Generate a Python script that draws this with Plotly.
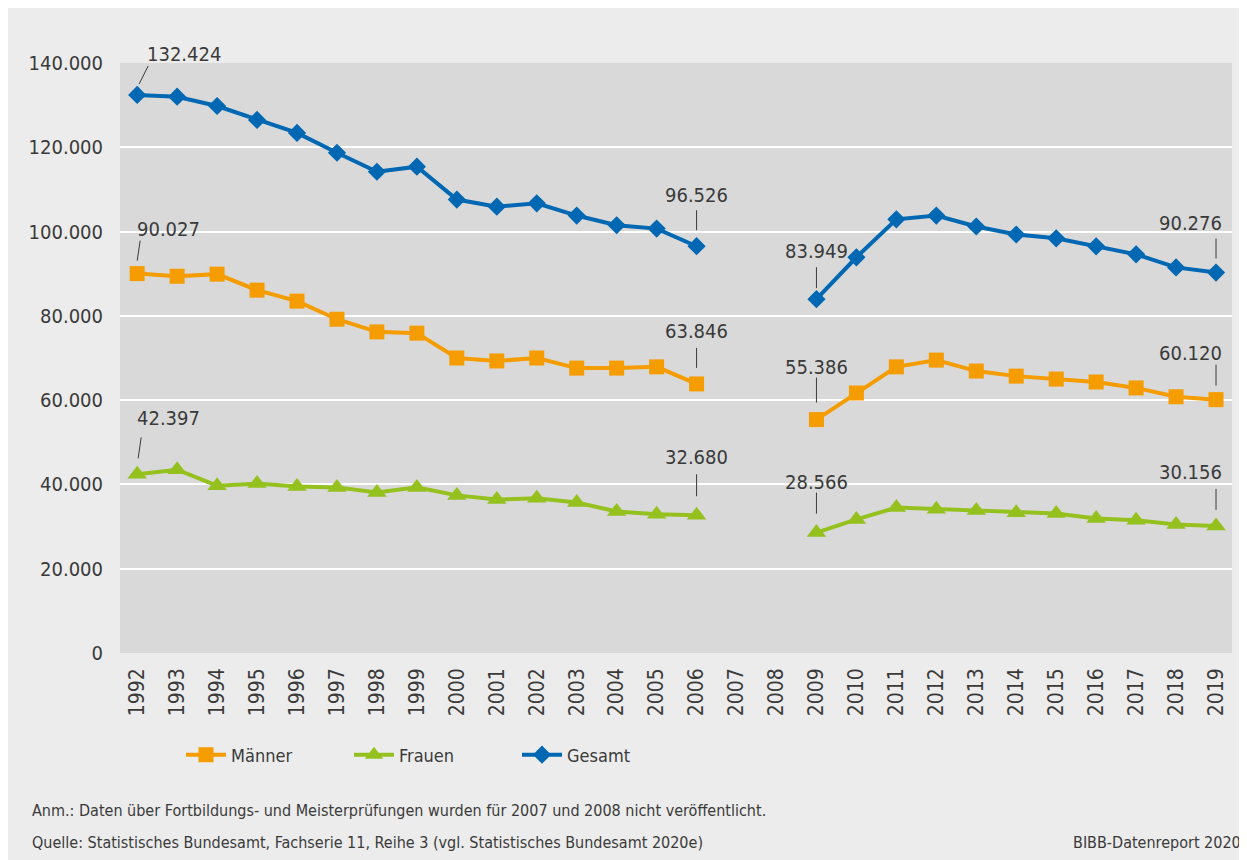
import plotly.graph_objects as go

years = list(range(1992, 2020))

# 2007 and 2008 were not published -> None
maenner = [90027, 89400, 89900, 86100, 83500, 79200, 76200, 75900, 70000, 69300,
           70000, 67600, 67600, 67900, 63846, None, None, 55386, 61700, 67900,
           69500, 66900, 65700, 65000, 64300, 62900, 60800, 60120]
frauen = [42397, 43500, 39700, 40200, 39500, 39300, 38100, 39300, 37400, 36400,
          36700, 35700, 33600, 32900, 32680, None, None, 28566, 31700, 34500,
          34100, 33800, 33300, 33100, 31900, 31500, 30500, 30156]
gesamt = [132424, 132000, 129800, 126500, 123400, 118700, 114200, 115400, 107600, 105900,
          106700, 103800, 101500, 100700, 96526, None, None, 83949, 93900, 102900,
          103800, 101200, 99300, 98400, 96500, 94600, 91500, 90276]

y_ticks = [0, 20000, 40000, 60000, 80000, 100000, 120000, 140000]
y_labels = ["0", "20.000", "40.000", "60.000", "80.000", "100.000", "120.000", "140.000"]

FONT = "DejaVu Sans Condensed, Liberation Sans Narrow, Roboto, sans-serif"
TXT = "#3a3a3a"

fig = go.Figure()
fig.add_trace(go.Scatter(x=years, y=maenner, name="Männer", mode="lines+markers",
                         line=dict(color="#f59c00", width=4),
                         marker=dict(symbol="square", size=15, color="#f59c00")))
fig.add_trace(go.Scatter(x=years, y=frauen, name="Frauen", mode="lines+markers",
                         line=dict(color="#95c11f", width=4),
                         marker=dict(symbol="triangle-up", size=17, color="#95c11f")))
fig.add_trace(go.Scatter(x=years, y=gesamt, name="Gesamt", mode="lines+markers",
                         line=dict(color="#0068b3", width=4),
                         marker=dict(symbol="diamond", size=14, color="#0068b3")))


def fmt(v):
    return f"{v:,}".replace(",", ".")


# value labels: (series, year index, xanchor, xshift, yshift, line offsets x0,y0,x1,y1)
labels = [
    (gesamt, 0, "left", 8, 41, 2, 11, 11, 29),
    (maenner, 0, "left", -2, 45, 0, 13, 3, 33),
    (frauen, 0, "left", -2, 56, 1, 16, 4, 37),
    (gesamt, 14, "center", 0, 51, 0, 16, 0, 36),
    (maenner, 14, "center", 0, 53, 0, 16, 0, 36),
    (frauen, 14, "center", 0, 58, 0, 19, 0, 41),
    (gesamt, 17, "center", 0, 48, 0, 11, 0, 32),
    (maenner, 17, "center", 0, 53, 0, 17, 0, 42),
    (frauen, 17, "center", 0, 51, 0, 19, 0, 40),
    (gesamt, 27, "right", 8, 50, 0, 14, 0, 34),
    (maenner, 27, "right", 8, 47, 0, 14, 0, 35),
    (frauen, 27, "right", 8, 54, 0, 16, 0, 37),
]
for s, i, xa, xs, ys, lx0, ly0, lx1, ly1 in labels:
    fig.add_annotation(x=years[i], y=s[i], text=fmt(s[i]), showarrow=False,
                       xanchor=xa, yanchor="middle", xshift=xs, yshift=ys,
                       font=dict(family=FONT, size=20, color=TXT))
    fig.add_shape(type="line", xref="x", yref="y",
                  xsizemode="pixel", ysizemode="pixel",
                  xanchor=years[i], yanchor=s[i],
                  x0=lx0, x1=lx1, y0=ly0, y1=ly1,
                  line=dict(color=TXT, width=1))

fig.add_annotation(xref="paper", yref="paper", x=(30 - 120) / 1112, y=(653 - 810) / 590,
                   xanchor="left", yanchor="middle", showarrow=False,
                   text="Anm.: Daten über Fortbildungs- und Meisterprüfungen wurden für 2007 und 2008 nicht veröffentlicht.",
                   font=dict(family=FONT, size=16, color=TXT))
fig.add_annotation(xref="paper", yref="paper", x=(30 - 120) / 1112, y=(653 - 842) / 590,
                   xanchor="left", yanchor="middle", showarrow=False,
                   text="Quelle: Statistisches Bundesamt, Fachserie 11, Reihe 3 (vgl. Statistisches Bundesamt 2020e)",
                   font=dict(family=FONT, size=16, color=TXT))
fig.add_annotation(xref="paper", yref="paper", x=(1243 - 120) / 1112, y=(653 - 842) / 590,
                   xanchor="right", yanchor="middle", showarrow=False,
                   text="BIBB-Datenreport 2020",
                   font=dict(family=FONT, size=16, color=TXT))

fig.update_layout(
    width=1239, height=852,
    margin=dict(l=112, r=15, t=55, b=207),
    paper_bgcolor="#ececec", plot_bgcolor="#d9d9d9",
    font=dict(family=FONT, color=TXT),
    legend=dict(orientation="h", x=(181 - 120) / 1112, y=(653 - 755) / 590,
                xanchor="left", yanchor="middle", bgcolor="rgba(0,0,0,0)",
                font=dict(family=FONT, size=18, color=TXT),
                entrywidth=113, itemwidth=40),
    showlegend=True,
)
fig.update_xaxes(range=[1991.57, 2019.4], tickmode="array", tickvals=years,
                 ticktext=[str(y) for y in years], tickangle=-90,
                 tickfont=dict(family=FONT, size=21, color=TXT),
                 showgrid=False, zeroline=False, ticks="", ticklabelstandoff=10)
fig.update_yaxes(range=[0, 140000], tickmode="array", tickvals=y_ticks, ticktext=y_labels,
                 tickfont=dict(family=FONT, size=20, color=TXT),
                 showgrid=True, gridcolor="white", gridwidth=2, zeroline=False,
                 ticks="", ticklabelstandoff=16)

fig.write_html("out.html")
